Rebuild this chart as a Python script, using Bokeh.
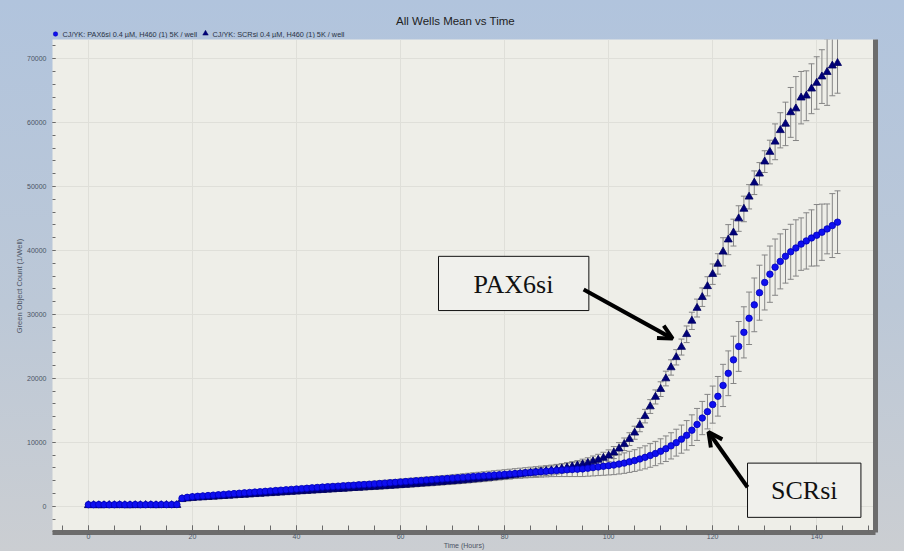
from bokeh.plotting import figure
from bokeh.models import (Range1d, SingleIntervalTicker, LinearAxis,
                          BoxAnnotation, Label, Arrow, OpenHead, ColumnDataSource)
from bokeh.core.properties import value
from bokeh.layouts import column
from bokeh.embed import file_html
from bokeh.resources import INLINE

# ---------------- data ----------------
hours = list(range(0, 145))

title_text = "All Wells Mean vs Time"
pax_label = "CJ/YK: PAX6si 0.4 µM, H460 (1) 5K / well"
scr_label = "CJ/YK: SCRsi 0.4 µM, H460 (1) 5K / well"

pax_mean = [
    250, 240, 260, 250, 230, 250, 260, 240, 250, 260,
    250, 240, 260, 250, 270, 250, 260, 270, 1250, 1400,
    1500, 1560, 1620, 1680, 1740, 1800, 1860, 1920, 1980, 2040,
    2100, 2160, 2220, 2280, 2340, 2400, 2460, 2520, 2580, 2640,
    2700, 2760, 2820, 2880, 2940, 3000, 3050, 3100, 3150, 3200,
    3250, 3300, 3350, 3400, 3450, 3500, 3560, 3620, 3680, 3740,
    3800, 3860, 3920, 3980, 4040, 4100, 4160, 4220, 4280, 4340,
    4400, 4460, 4520, 4580, 4640, 4700, 4760, 4820, 4880, 4940,
    5000, 5060, 5120, 5180, 5240, 5300, 5360, 5420, 5480, 5540,
    5600, 5650, 5700, 5750, 5800, 5850, 5950, 6050, 6150, 6250,
    6350, 6450, 6600, 6750, 6950, 7150, 7400, 7650, 7950, 8250,
    8600, 9000, 9450, 9950, 10500, 11100, 11900, 12800, 13800, 14800,
    15900, 17200, 18900, 20800, 22900, 25000, 27200, 29400, 31500, 33400,
    35000, 36300, 37400, 38300, 39100, 39800, 40400, 41000, 41500, 41960,
    42390, 42860, 43380, 43900, 44430,
]

pax_err = [
    150, 150, 150, 150, 150, 150, 150, 150, 150, 150,
    150, 150, 150, 150, 150, 150, 150, 150, 250, 250,
    260, 260, 270, 270, 280, 280, 290, 290, 300, 300,
    310, 310, 320, 320, 330, 330, 340, 340, 350, 350,
    360, 360, 370, 370, 380, 380, 390, 390, 400, 400,
    410, 410, 420, 420, 430, 430, 440, 440, 450, 450,
    460, 460, 470, 470, 480, 480, 490, 490, 500, 500,
    520, 540, 560, 580, 600, 620, 640, 660, 680, 700,
    720, 740, 760, 780, 800, 820, 840, 860, 880, 900,
    950, 1000, 1050, 1100, 1150, 1200, 1250, 1300, 1350, 1400,
    1450, 1500, 1550, 1600, 1650, 1700, 1750, 1800, 1850, 1900,
    1950, 2000, 2050, 2100, 2200, 2300, 2400, 2500, 2600, 2700,
    2900, 3100, 3300, 3500, 3700, 3900, 4000, 4100, 4200, 4300,
    4300, 4400, 4400, 4300, 4200, 4300, 4400, 4100, 4400, 4400,
    4800, 4400, 3900, 5000, 4900,
]

scr_mean = [
    150, 160, 140, 150, 170, 150, 160, 150, 140, 160,
    150, 170, 160, 150, 160, 170, 160, 180, 1100, 1200,
    1280, 1330, 1380, 1430, 1480, 1530, 1580, 1630, 1680, 1730,
    1780, 1830, 1880, 1930, 1980, 2030, 2080, 2130, 2180, 2230,
    2280, 2330, 2380, 2430, 2480, 2530, 2580, 2630, 2680, 2730,
    2780, 2830, 2880, 2930, 2980, 3030, 3080, 3130, 3190, 3240,
    3300, 3350, 3410, 3470, 3530, 3590, 3650, 3710, 3770, 3840,
    3900, 3970, 4040, 4110, 4190, 4270, 4350, 4430, 4520, 4610,
    4700, 4800, 4900, 5000, 5100, 5200, 5300, 5400, 5500, 5600,
    5750, 5900, 6050, 6200, 6350, 6550, 6750, 7000, 7250, 7550,
    7900, 8400, 9000, 9700, 10500, 11500, 12700, 14100, 15600, 17100,
    18320, 19980, 21710, 23300, 24900, 26900, 29000, 31000, 32700, 34400,
    36300, 37900, 39800, 41700, 42800, 45000, 46500, 48400, 50600, 52000,
    53900, 55400, 57000, 58800, 59800, 61600, 62200, 63900, 64200, 65300,
    66200, 67200, 67900, 68900, 69300,
]

scr_err = [
    120, 120, 120, 120, 120, 120, 120, 120, 120, 120,
    120, 120, 120, 120, 120, 120, 120, 120, 200, 200,
    210, 210, 220, 220, 230, 230, 240, 240, 250, 250,
    260, 260, 270, 270, 280, 280, 290, 290, 300, 300,
    310, 310, 320, 320, 330, 330, 340, 340, 350, 350,
    360, 360, 370, 370, 380, 380, 390, 390, 400, 400,
    410, 410, 420, 420, 430, 430, 440, 440, 450, 450,
    460, 460, 470, 470, 480, 480, 490, 490, 500, 500,
    520, 540, 560, 580, 600, 620, 640, 660, 680, 700,
    720, 740, 760, 780, 800, 820, 840, 860, 880, 900,
    920, 940, 960, 980, 1000, 1020, 1040, 1060, 1080, 1100,
    1150, 1150, 1200, 1200, 1250, 1300, 1350, 1400, 1450, 1500,
    1600, 1600, 2200, 2350, 2100, 2000, 2000, 1900, 1850, 1750,
    1700, 1850, 2800, 2750, 3400, 3900, 5000, 4100, 3900, 3900,
    4100, 4200, 5200, 4700, 4700,
]

PAX_FILL, PAX_LINE = "#0f0ff0", "#0000b8"
SCR_FILL, SCR_LINE = "#00007a", "#000060"
TEXT_FONT = "Liberation Sans"

W, H = 904, 551
HEAD_H = 38
BORDER_L, BORDER_R = 52, 29

# ---------------- header: title + legend (x in page pixels) ----------------
head = figure(width=W, height=HEAD_H, output_backend="svg", toolbar_location=None,
              x_range=Range1d(BORDER_L, W - BORDER_R), y_range=Range1d(0, HEAD_H),
              x_axis_type=None, y_axis_type=None,
              min_border=0, min_border_left=BORDER_L, min_border_right=BORDER_R,
              min_border_top=0, min_border_bottom=0)
head.background_fill_color = None
head.border_fill_color = None
head.outline_line_color = None
head.grid.visible = False

head.text(x=[455], y=[18], text=[title_text], text_font=value(TEXT_FONT),
          text_font_size="11.5px", text_color="#1e1e1e",
          text_align="center", text_baseline="middle")
head.scatter(x=[55], y=[4.5], marker="circle", size=4.5,
             fill_color=PAX_FILL, line_color=PAX_LINE, line_width=0.5)
head.scatter(x=[205], y=[5], marker="triangle", size=5.5,
             fill_color=SCR_FILL, line_color=SCR_LINE, line_width=0.5)
head.text(x=[62, 212], y=[4.5, 4.5], text=[pax_label, scr_label], text_font=value(TEXT_FONT),
          text_font_size="7.3px", text_color="#2a3345",
          text_align="left", text_baseline="middle")

# ---------------- main figure ----------------
p = figure(width=W, height=H - HEAD_H, output_backend="svg", toolbar_location=None,
           x_range=Range1d(-6.9, 151.3), y_range=Range1d(-4100, 73000),
           min_border_left=BORDER_L, min_border_right=BORDER_R,
           min_border_top=1, min_border_bottom=0)

p.background_fill_color = "#eeeee8"
p.border_fill_color = None
p.outline_line_color = None

xt = SingleIntervalTicker(interval=20, num_minor_ticks=4)
yt = SingleIntervalTicker(interval=10000, num_minor_ticks=5)
p.xaxis[0].ticker = xt
p.yaxis[0].ticker = yt
p.xgrid.ticker = xt
p.ygrid.ticker = yt
p.grid.grid_line_color = "#dfdfd9"
p.grid.grid_line_width = 1

for ax in (p.xaxis[0], p.yaxis[0]):
    ax.major_label_text_font = TEXT_FONT
    ax.major_label_text_font_size = "7px"
    ax.major_label_text_color = "#4c5464"
    ax.axis_label_text_font = TEXT_FONT
    ax.axis_label_text_font_size = "7px"
    ax.axis_label_text_font_style = "normal"
    ax.axis_label_text_color = "#4c5464"
    ax.major_tick_out = 0
    ax.minor_tick_out = 0
    ax.major_tick_line_color = "#6a6a6a"
    ax.minor_tick_line_color = "#6a6a6a"

xa = p.xaxis[0]
xa.axis_label = "Time (Hours)"
xa.axis_line_width = 5
xa.axis_line_color = "#6c6c6c"
xa.major_tick_in = 7
xa.minor_tick_in = 7
xa.major_label_standoff = 1
xa.axis_label_standoff = 0

ya = p.yaxis[0]
ya.axis_label = "Green Object Count (1/Well)"
ya.axis_label_text_font_size = "7.5px"
ya.axis_line_color = None
ya.major_tick_in = 3
ya.minor_tick_in = 3
ya.major_label_standoff = 6
ya.axis_label_standoff = 0

# right-hand shadow bar
ra = LinearAxis(axis_line_width=5, axis_line_color="#6c6c6c",
                major_tick_line_color=None, minor_tick_line_color=None,
                major_label_text_alpha=0, major_label_text_font_size="1px")
p.add_layout(ra, "right")

# ---------------- data glyphs ----------------
src_pax = ColumnDataSource(dict(t=hours, y=pax_mean,
                                lo=[m - e for m, e in zip(pax_mean, pax_err)],
                                hi=[m + e for m, e in zip(pax_mean, pax_err)]))
src_scr = ColumnDataSource(dict(t=hours, y=scr_mean,
                                lo=[m - e for m, e in zip(scr_mean, scr_err)],
                                hi=[m + e for m, e in zip(scr_mean, scr_err)]))

bar_color = "#858585"
for src in (src_scr, src_pax):
    p.segment(x0="t", x1="t", y0="lo", y1="hi", source=src, line_color=bar_color, line_width=1)
    p.scatter(x="t", y="hi", source=src, marker="dash", size=6, line_color=bar_color, line_width=1)
    p.scatter(x="t", y="lo", source=src, marker="dash", size=6, line_color=bar_color, line_width=1)

p.scatter(x="t", y="y", source=src_scr, marker="triangle", size=8,
          fill_color=SCR_FILL, line_color=SCR_LINE, line_width=0.8)
p.scatter(x="t", y="y", source=src_pax, marker="circle", size=6.5,
          fill_color=PAX_FILL, line_color=PAX_LINE, line_width=0.8)

# ---------------- annotations ----------------
for (l, r, b, t) in ((67.3, 96.2, 30610, 39090), (126.7, 148.5, -1730, 6750)):
    p.add_layout(BoxAnnotation(left=l, right=r, bottom=b, top=t,
                               fill_color="#f0f0ec", fill_alpha=1,
                               line_color="#111111", line_alpha=1, line_width=1))
p.add_layout(Label(x=81.7, y=34700, text="PAX6si", text_font="Liberation Serif",
                   text_font_size="26px", text_align="center", text_baseline="middle",
                   text_color="#111111"))
p.add_layout(Label(x=137.6, y=2510, text="SCRsi", text_font="Liberation Serif",
                   text_font_size="26px", text_align="center", text_baseline="middle",
                   text_color="#111111"))
p.add_layout(Arrow(x_start=95.2, y_start=33900, x_end=112.3, y_end=26220,
                   line_width=4, line_color="black",
                   end=OpenHead(size=14, line_width=4, line_color="black")))
p.add_layout(Arrow(x_start=126.7, y_start=2980, x_end=119.2, y_end=11620,
                   line_width=4, line_color="black",
                   end=OpenHead(size=14, line_width=4, line_color="black")))

layout = column(head, p, spacing=0,
                styles={"background": "linear-gradient(180deg, #b1c4dd 0%, #bcc8d7 55%, #cbced2 100%)"})

open("out.html", "w").write(file_html(layout, INLINE))
